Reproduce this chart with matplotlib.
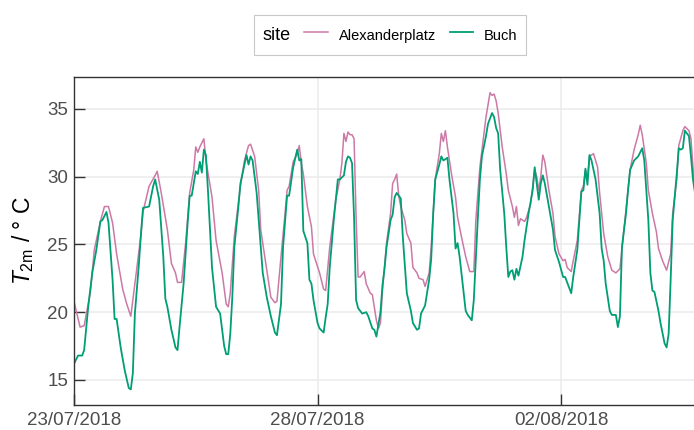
import numpy as np
import matplotlib
matplotlib.use('Agg')
import matplotlib.pyplot as plt
import matplotlib.dates as mdates

plt.rcParams['font.family'] = ['Liberation Sans', 'DejaVu Sans']
plt.rcParams['mathtext.fontset'] = 'custom'
plt.rcParams['mathtext.it'] = 'Liberation Sans:italic'
plt.rcParams['mathtext.rm'] = 'Liberation Sans'

# hourly 2 m temperature, hours counted from 23/07/2018 00:00
start = np.datetime64('2018-07-23T00:00')

alex_hours = [0, 3, 5, 8, 10, 13, 15, 17, 19, 21, 24, 26, 28, 31, 33, 34, 37, 40, 41, 43,
              46, 48, 50, 51, 53, 55, 57, 59, 60, 61, 62, 64, 65, 68, 70, 73, 75, 76, 77, 79,
              82, 84, 86, 87, 89, 91, 92, 95, 97, 99, 100, 102, 104, 105, 106, 108, 110, 111, 112, 113,
              115, 117, 118, 121, 123, 124, 126, 129, 131, 132, 133, 134, 135, 136, 137, 138, 139, 140, 141, 143,
              144, 146, 147, 149, 150, 151, 152, 154, 156, 157, 158, 159, 160, 161, 163, 164, 166, 167, 169, 170,
              172, 173, 175, 176, 178, 180, 181, 182, 183, 184, 186, 188, 189, 191, 193, 195, 197, 198, 200, 202,
              203, 205, 206, 207, 208, 209, 211, 213, 214, 216, 217, 218, 219, 220, 222, 223, 225, 227, 228, 229,
              230, 231, 232, 234, 236, 237, 239, 241, 242, 243, 245, 246, 248, 250, 251, 252, 253, 254, 256, 258,
              259, 261, 263, 265, 267, 269, 271, 273, 274, 276, 278, 279, 280, 282, 283, 285, 287, 288, 290, 292,
              294, 295, 297, 298, 300, 301, 303, 304, 305, 306]
alex_temp = [20.8, 18.9, 19.0, 21.4, 24.6, 26.7, 27.8, 27.8, 26.6, 24.3, 21.7, 20.6, 19.7, 23.3, 25.7, 27.4, 29.3, 30.1, 30.4, 28.8,
             26.1, 23.6, 22.9, 22.2, 22.2, 25.1, 28.8, 30.5, 32.2, 31.8, 32.2, 32.8, 31.2, 28.5, 25.3, 22.9, 20.6, 20.4, 21.4, 25.6,
             29.3, 31.2, 32.3, 32.4, 31.5, 29.0, 26.1, 23.1, 21.1, 20.7, 20.8, 24.1, 27.3, 29.0, 29.3, 31.1, 31.7, 32.3, 31.0, 30.2,
             27.8, 26.3, 24.3, 22.9, 21.7, 21.6, 24.8, 28.3, 29.8, 31.0, 33.2, 32.6, 33.3, 33.1, 33.1, 32.8, 27.0, 22.6, 22.6, 23.0,
             22.1, 21.4, 21.3, 19.4, 18.8, 19.2, 21.6, 25.1, 27.3, 29.5, 29.8, 30.2, 28.6, 27.8, 26.8, 25.8, 25.1, 23.3, 22.9, 22.5,
             22.4, 21.9, 22.9, 24.8, 29.8, 31.7, 33.2, 32.6, 33.4, 32.2, 30.2, 28.5, 27.0, 25.5, 24.1, 23.0, 23.0, 26.8, 30.7, 33.2,
             34.4, 36.2, 36.0, 36.1, 35.6, 34.7, 32.2, 30.2, 29.0, 27.8, 27.0, 27.8, 26.4, 26.9, 26.7, 27.0, 28.0, 30.5, 30.0, 29.0,
             30.0, 31.6, 31.1, 29.0, 27.3, 25.6, 24.3, 23.8, 23.9, 23.3, 23.0, 23.8, 25.3, 29.0, 29.3, 30.5, 29.8, 31.5, 31.7, 30.7,
             28.8, 25.8, 24.1, 23.1, 22.9, 23.2, 26.1, 29.0, 30.5, 32.0, 33.1, 33.8, 33.1, 31.0, 29.0, 27.3, 25.9, 24.7, 23.8, 23.1,
             24.3, 27.3, 29.8, 32.3, 33.4, 33.7, 33.4, 32.8, 30.7, 28.9]

buch_hours = [0, 2, 4, 5, 7, 9, 11, 13, 14, 16, 17, 19, 20, 21, 23, 25, 27, 28, 29, 30,
              32, 33, 34, 37, 39, 40, 42, 44, 45, 46, 48, 50, 51, 52, 54, 56, 57, 58, 60, 61,
              62, 63, 64, 65, 66, 68, 70, 72, 74, 75, 76, 77, 78, 79, 81, 82, 83, 85, 86, 87,
              88, 90, 92, 93, 95, 97, 99, 100, 102, 103, 105, 106, 108, 110, 111, 112, 113, 115, 116, 117,
              118, 120, 121, 123, 124, 125, 126, 128, 130, 131, 133, 134, 135, 136, 137, 138, 139, 140, 142, 144,
              145, 147, 148, 149, 151, 152, 153, 154, 156, 157, 158, 159, 161, 162, 164, 166, 167, 169, 170, 171,
              173, 175, 176, 177, 178, 180, 181, 182, 184, 185, 187, 188, 189, 190, 192, 193, 194, 196, 197, 198,
              199, 200, 201, 203, 204, 206, 207, 208, 209, 210, 212, 213, 214, 215, 216, 217, 218, 219, 221, 222,
              224, 226, 227, 228, 229, 230, 231, 232, 234, 236, 237, 239, 241, 242, 243, 245, 246, 248, 250, 251,
              252, 253, 254, 255, 257, 259, 260, 261, 262, 264, 265, 267, 268, 269, 270, 272, 273, 274, 276, 278,
              280, 281, 283, 284, 285, 286, 288, 289, 291, 292, 293, 294, 295, 297, 298, 299, 300, 301, 303, 304,
              305, 306]
buch_temp = [16.2, 16.8, 16.8, 17.2, 20.4, 22.9, 24.6, 26.7, 26.8, 27.4, 26.6, 22.4, 19.5, 19.5, 17.4, 15.7, 14.4, 14.3, 15.5, 19.9,
             23.6, 25.8, 27.7, 27.8, 29.3, 29.8, 28.3, 24.1, 21.0, 20.4, 18.7, 17.4, 17.2, 18.9, 22.1, 26.6, 28.6, 28.6, 30.4, 30.2,
             31.1, 30.3, 32.0, 31.6, 29.0, 23.3, 20.4, 19.9, 17.5, 16.9, 16.9, 18.4, 21.1, 24.8, 27.8, 29.5, 30.2, 31.6, 30.9, 31.5,
             31.2, 28.8, 24.8, 22.9, 21.1, 19.7, 18.5, 18.3, 20.6, 24.8, 28.6, 28.6, 30.7, 32.0, 31.2, 31.3, 26.0, 25.1, 22.4, 22.1,
             20.9, 19.2, 18.8, 18.5, 19.6, 20.6, 23.3, 26.8, 29.8, 29.8, 30.1, 31.1, 31.5, 31.4, 31.0, 27.0, 20.9, 20.3, 19.9, 20.0,
             19.7, 18.8, 18.7, 18.2, 20.0, 22.0, 23.2, 24.8, 26.8, 27.2, 28.5, 28.8, 28.4, 25.6, 21.4, 20.1, 19.2, 18.7, 18.8, 19.9,
             20.5, 22.4, 23.9, 27.3, 29.8, 30.9, 31.5, 31.2, 31.4, 29.8, 27.3, 24.7, 25.1, 24.1, 21.4, 20.1, 19.8, 19.4, 20.9, 24.0,
             27.0, 29.8, 31.5, 33.0, 33.9, 34.7, 34.4, 33.6, 33.2, 30.5, 27.3, 24.8, 22.6, 23.0, 23.1, 22.4, 23.2, 22.7, 24.1, 25.3,
             27.3, 29.0, 30.7, 29.5, 28.3, 29.5, 30.1, 29.5, 27.8, 26.1, 24.6, 23.7, 22.6, 22.6, 22.2, 21.4, 22.6, 24.6, 28.9, 29.0,
             30.6, 29.4, 31.6, 31.2, 29.8, 27.3, 24.7, 23.8, 22.1, 20.1, 19.8, 19.8, 18.9, 19.7, 24.8, 27.3, 29.0, 30.5, 31.2, 31.5,
             32.1, 31.2, 26.8, 22.9, 21.6, 21.5, 20.1, 19.2, 17.7, 17.4, 18.4, 22.4, 26.8, 30.2, 32.1, 32.0, 32.1, 33.4, 33.0, 31.5,
             29.8, 28.8]

tick_dates = ['2018-07-23', '2018-07-28', '2018-08-02']
y_ticks = [15, 20, 25, 30, 35]


def to_time(hours):
    return start + (np.array(hours) * 60).astype('timedelta64[m]')


alex_col = '#CC79A7'
buch_col = '#009E73'
axis_grey = '#4D4D4D'

fig = plt.figure(figsize=(6.94, 4.30), dpi=100)
ax = fig.add_axes([74 / 694, 25 / 430, 620 / 694, 328 / 430])

ax.plot(to_time(alex_hours), alex_temp, color=alex_col, lw=1.1, label='Alexanderplatz')
ax.plot(to_time(buch_hours), buch_temp, color=buch_col, lw=1.3, label='Buch')

ax.set_xlim(start, start + np.timedelta64(int(305.5 * 60), 'm'))
ax.set_ylim(13.15, 37.36)
ax.set_xticks(np.array(tick_dates, dtype='datetime64[m]'))
ax.xaxis.set_major_formatter(mdates.DateFormatter('%d/%m/%Y'))
ax.set_yticks(y_ticks)

ax.grid(True, color='#EBEBEB', lw=1.1)
ax.set_axisbelow(True)
for side in ['left', 'bottom', 'top']:
    ax.spines[side].set_color('#333333')
    ax.spines[side].set_linewidth(1.0)
ax.spines['right'].set_visible(False)
ax.tick_params(direction='in', length=8, width=1.0, color='#333333',
               labelsize=13.5, labelcolor=axis_grey, pad=4)
ax.tick_params(axis='x', pad=5)

ax.set_ylabel(r'$T_{\mathrm{2m}}$ / ° C', fontsize=16.5, labelpad=8)

leg = ax.legend(ncol=2, title='site', loc='center', bbox_to_anchor=(390 / 694, 1 - 35 / 430),
                bbox_transform=fig.transFigure, fontsize=10.5, title_fontsize=13,
                frameon=True, fancybox=False, edgecolor='#BBBBBB', handlelength=1.6,
                handleheight=2.0, handletextpad=0.75, columnspacing=0.8, borderpad=0.6)
leg.get_frame().set_linewidth(0.8)
# put the title to the left of the entries, ggplot style
box = leg.get_children()[0]
title = box.get_children()[0]
entries = box.get_children()[1]
box._children = [entries]
entries._children = [title] + entries.get_children()
entries.sep = 10
entries.align = 'center'

fig.savefig('out.png', dpi=100)
